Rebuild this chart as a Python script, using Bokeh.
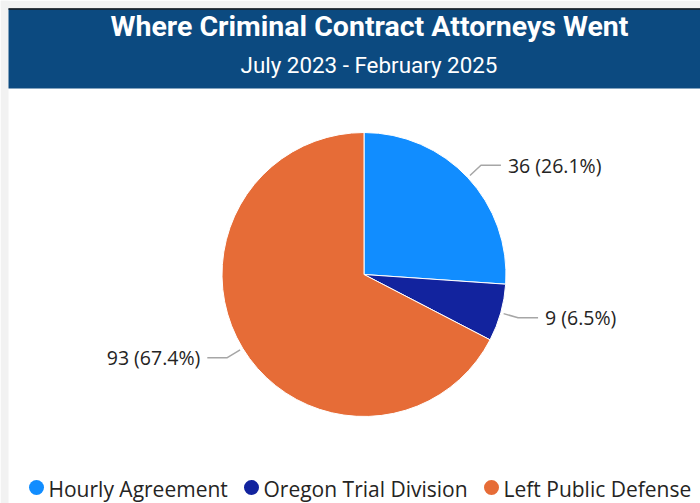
import math
from bokeh.plotting import figure
from bokeh.models import Range1d, ColumnDataSource
from bokeh.core.properties import value
from bokeh.embed import file_html
from bokeh.resources import INLINE

# ---- data ----
categories = ["Hourly Agreement", "Oregon Trial Division", "Left Public Defense"]
counts = [36, 9, 93]
colors = ["#118DFF", "#12239E", "#E66C37"]
title_text = "Where Criminal Contract Attorneys Went"
subtitle_text = "July 2023 - February 2025"

W, H = 700, 503
p = figure(width=W, height=H, x_range=Range1d(0, W), y_range=Range1d(0, H),
           output_backend="svg", toolbar_location=None, min_border=0,
           background_fill_color="white", border_fill_color="white")
p.xaxis.visible = False
p.yaxis.visible = False
p.grid.visible = False
p.outline_line_color = None

def Y(py):  # page pixel y -> data y
    return H - py

def X(px):
    return px

# ---- page margin strips ----
p.quad(left=[0, 0], right=[8, W], bottom=[0, Y(8)], top=[H, H], fill_color="#F2F2F2", line_color=None)

# ---- header ----
p.quad(left=[8], right=[W], bottom=[Y(88)], top=[Y(8)], fill_color="#0C4A80", line_color=None)
p.segment(x0=[8], y0=[Y(8.5)], x1=[W], y1=[Y(8.5)], line_color="#1a1a1a", line_width=1.5)
p.text(x=[X(369)], y=[Y(26)], text=[title_text], text_align="center", text_baseline="alphabetic",
       text_font=value("Roboto"), text_font_style="bold", text_font_size="28.5px", text_color="white")
p.text(x=[X(368.5)], y=[Y(64)], text=[subtitle_text], text_align="center", text_baseline="alphabetic",
       text_font=value("Roboto"), text_font_size="22.4px", text_color="white")

# ---- pie ----
cx, cy, R = X(363.5), Y(274), 142
total = sum(counts)
fracs = [c / total for c in counts]
starts, ends, mids = [], [], []
cum = 0.0
for f in fracs:
    starts.append(math.pi / 2 - cum * 2 * math.pi)
    mids.append(math.pi / 2 - (cum + f / 2) * 2 * math.pi)
    cum += f
    ends.append(math.pi / 2 - cum * 2 * math.pi)

src = ColumnDataSource(dict(start=starts, end=ends, color=colors, cat=categories))
p.wedge(x=cx, y=cy, radius=R, radius_units="screen", start_angle="start", end_angle="end",
        direction="clock", fill_color="color", line_color="white", line_width=1, source=src)

# ---- labels with leader lines ----
lx, ly, ltxt, lalign = [], [], [], []
for c, f, a in zip(counts, fracs, mids):
    sx, sy = cx + 145 * math.cos(a), cy + 145 * math.sin(a)
    ex, ey = cx + 160 * math.cos(a), cy + 160 * math.sin(a)
    right = math.cos(a) >= 0
    hx = ex + (20 if right else -20)
    p.line(x=[sx, ex, hx], y=[sy, ey, ey], line_color="#A6A6A6", line_width=1.5)
    lx.append(hx + (7 if right else -7))
    ly.append(ey)
    ltxt.append(f"{c} ({f * 100:.1f}%)")
    lalign.append("left" if right else "right")

p.text(x=lx, y=ly, text=ltxt, text_align=lalign, text_baseline="alphabetic",
       text_font=value("Open Sans"), text_font_size="19.5px", text_color="#252423")

# ---- legend ----
leg_cx = [X(36), X(251), X(491)]
leg_tx = [X(48), X(263), X(503)]
p.scatter(x=leg_cx, y=[Y(487)] * 3, size=15, marker="circle", fill_color=colors, line_color=None)
p.text(x=leg_tx, y=[Y(488)] * 3, text=categories, text_align="left", text_baseline="alphabetic",
       text_font=value("Open Sans"), text_font_size="21px", text_color="#252423")

html = file_html(p, INLINE)
open("out.html", "w").write(html)
